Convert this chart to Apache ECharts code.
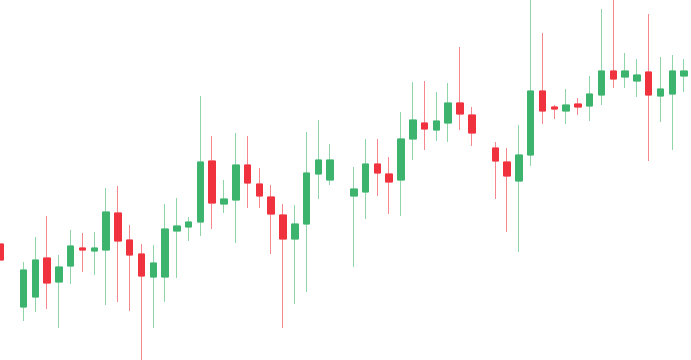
<!DOCTYPE html>
<html>
<head>
<meta charset="utf-8">
<script src="https://cdn.jsdelivr.net/npm/echarts@6/dist/echarts.min.js"></script>
<style>
html,body{margin:0;padding:0;background:#ffffff;overflow:hidden;width:691px;height:360px;}
#chart{position:absolute;left:-6px;top:0;width:697px;height:360px;}
</style>
</head>
<body>
<div id="chart"></div>
<script>
// Trading sessions (null = no candle in that slot)
const sessions = Array.from({length: 59}, (_, i) => 'S' + (i + 1));

const opens = [111.6,null,105.3,106.3,110.2,107.8,109.4,111.2,110.9,111.0,114.7,112.0,110.6,108.3,108.3,112.9,113.3,113.8,119.9,115.6,116.0,119.5,117.6,116.3,114.5,112.1,113.6,118.6,118.0,null,116.4,116.8,119.6,118.6,118.0,122.1,123.7,123.0,123.7,125.7,124.5,null,121.2,119.8,117.9,120.5,126.9,125.3,124.9,125.6,125.4,126.5,128.9,128.3,127.9,128.8,126.4,126.6,128.4];
const closes = [110.0,null,109.0,110.0,107.7,109.3,111.4,111.0,111.2,114.8,111.9,110.5,108.4,109.7,113.1,113.4,113.8,119.8,115.7,116.1,119.5,117.7,116.4,114.6,112.1,113.6,118.7,120.0,120.0,null,117.1,119.6,118.7,117.8,122.1,124.0,123.1,123.9,125.7,124.6,122.7,null,119.9,118.4,120.5,126.9,124.9,125.1,125.5,125.3,126.6,128.9,128.1,128.9,128.5,126.5,127.1,128.9,128.9];
const lows = [108.6,null,103.9,104.8,105.1,103.2,107.6,108.8,108.5,105.5,105.8,104.9,100.0,103.2,105.8,108.2,111.9,112.4,113.1,114.7,111.7,115.2,115.2,110.6,103.2,105.6,106.8,116.1,117.5,null,109.3,114.1,116.4,114.6,114.4,120.0,121.0,121.9,121.8,123.0,121.4,null,116.1,112.8,110.8,119.4,123.6,124.1,123.6,124.5,123.9,125.5,127.2,127.2,126.3,119.9,123.8,121.0,126.8];
const highs = [114.4,null,109.8,112.3,114.4,110.5,113.0,112.7,112.8,117.2,117.4,113.5,111.6,111.5,115.6,116.2,114.3,126.4,122.4,118.0,122.7,122.4,119.2,117.5,115.6,115.5,122.8,124.0,121.6,null,119.3,122.1,122.1,120.3,124.8,127.8,127.9,126.8,127.7,131.3,125.3,null,121.8,121.2,123.5,136.0,132.7,125.5,127.1,126.2,128.4,135.1,136.0,130.7,130.1,134.6,130.3,130.5,130.1];

const upBody = '#3cb46e', downBody = '#f0323f';
const upWick = '#8fd5a7', downWick = '#f5878e';

const full = sessions.map((_, i) => opens[i] == null ? '-' : [opens[i], closes[i], lows[i], highs[i]]);
const bodies = sessions.map((_, i) => opens[i] == null ? '-' :
  [opens[i], closes[i], Math.min(opens[i], closes[i]), Math.max(opens[i], closes[i])]);

const chart = echarts.init(document.getElementById('chart'), null, {renderer: 'canvas'});
chart.setOption({
  animation: false,
  backgroundColor: '#ffffff',
  grid: {left: 0, right: 1, top: 0, bottom: 0, containLabel: false},
  xAxis: {type: 'category', data: sessions, boundaryGap: true, show: false},
  yAxis: {type: 'value', min: 100, max: 136, show: false, splitLine: {show: false}},
  series: [
    {
      type: 'candlestick', data: full, barWidth: 7,
      itemStyle: {color: upWick, color0: downWick, borderColor: upWick, borderColor0: downWick, borderWidth: 1}
    },
    {
      type: 'candlestick', data: bodies, barWidth: 7,
      itemStyle: {color: upBody, color0: downBody, borderColor: upBody, borderColor0: downBody, borderWidth: 1}
    }
  ]
});
</script>
</body>
</html>
